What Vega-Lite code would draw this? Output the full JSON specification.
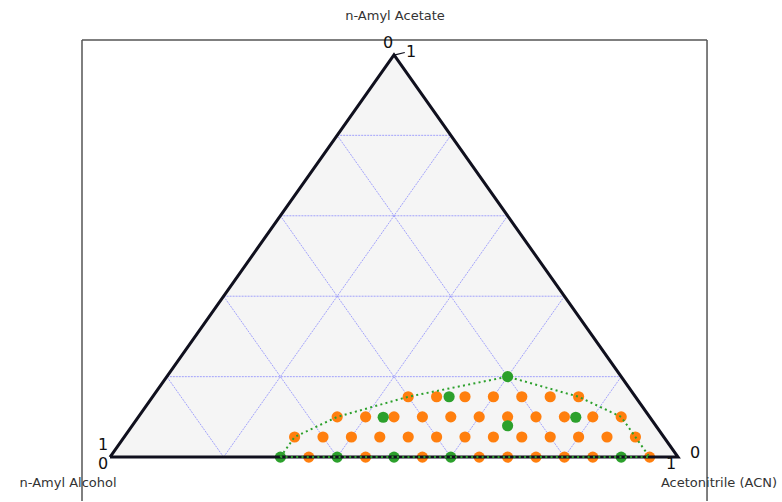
{
  "$schema": "https://vega.github.io/schema/vega-lite/v6.json",
  "width": 782,
  "height": 502,
  "autosize": {"type": "fit", "contains": "padding"},
  "padding": 0,
  "background": "white",
  "config": {"view": {"stroke": null}},
  "datasets": {
    "one": [{}],
    "triangle": [
      {"i": 0, "x": 0, "y": 0},
      {"i": 1, "x": 0.5, "y": 1},
      {"i": 2, "x": 1, "y": 0},
      {"i": 3, "x": 0, "y": 0}
    ],
    "grid": [
      {"x": 0.1, "y": 0.2, "x2": 0.9, "y2": 0.2},
      {"x": 0.2, "y": 0.4, "x2": 0.8, "y2": 0.4},
      {"x": 0.3, "y": 0.6, "x2": 0.7, "y2": 0.6},
      {"x": 0.4, "y": 0.8, "x2": 0.6, "y2": 0.8},
      {"x": 0.2, "y": 0, "x2": 0.6, "y2": 0.8},
      {"x": 0.4, "y": 0, "x2": 0.7, "y2": 0.6},
      {"x": 0.6, "y": 0, "x2": 0.8, "y2": 0.4},
      {"x": 0.8, "y": 0, "x2": 0.9, "y2": 0.2},
      {"x": 0.2, "y": 0, "x2": 0.1, "y2": 0.2},
      {"x": 0.4, "y": 0, "x2": 0.2, "y2": 0.4},
      {"x": 0.6, "y": 0, "x2": 0.3, "y2": 0.6},
      {"x": 0.8, "y": 0, "x2": 0.4, "y2": 0.8}
    ],
    "points": [
      {"x": 0.35, "y": 0, "type": "mixture"},
      {"x": 0.45, "y": 0, "type": "mixture"},
      {"x": 0.55, "y": 0, "type": "mixture"},
      {"x": 0.65, "y": 0, "type": "mixture"},
      {"x": 0.70, "y": 0, "type": "mixture"},
      {"x": 0.75, "y": 0, "type": "mixture"},
      {"x": 0.80, "y": 0, "type": "mixture"},
      {"x": 0.85, "y": 0, "type": "mixture"},
      {"x": 0.95, "y": 0, "type": "mixture"},
      {"x": 0.325, "y": 0.05, "type": "mixture"},
      {"x": 0.375, "y": 0.05, "type": "mixture"},
      {"x": 0.425, "y": 0.05, "type": "mixture"},
      {"x": 0.475, "y": 0.05, "type": "mixture"},
      {"x": 0.525, "y": 0.05, "type": "mixture"},
      {"x": 0.575, "y": 0.05, "type": "mixture"},
      {"x": 0.625, "y": 0.05, "type": "mixture"},
      {"x": 0.675, "y": 0.05, "type": "mixture"},
      {"x": 0.725, "y": 0.05, "type": "mixture"},
      {"x": 0.775, "y": 0.05, "type": "mixture"},
      {"x": 0.825, "y": 0.05, "type": "mixture"},
      {"x": 0.875, "y": 0.05, "type": "mixture"},
      {"x": 0.925, "y": 0.05, "type": "mixture"},
      {"x": 0.40, "y": 0.1, "type": "mixture"},
      {"x": 0.45, "y": 0.1, "type": "mixture"},
      {"x": 0.50, "y": 0.1, "type": "mixture"},
      {"x": 0.55, "y": 0.1, "type": "mixture"},
      {"x": 0.60, "y": 0.1, "type": "mixture"},
      {"x": 0.65, "y": 0.1, "type": "mixture"},
      {"x": 0.70, "y": 0.1, "type": "mixture"},
      {"x": 0.75, "y": 0.1, "type": "mixture"},
      {"x": 0.80, "y": 0.1, "type": "mixture"},
      {"x": 0.85, "y": 0.1, "type": "mixture"},
      {"x": 0.90, "y": 0.1, "type": "mixture"},
      {"x": 0.525, "y": 0.15, "type": "mixture"},
      {"x": 0.575, "y": 0.15, "type": "mixture"},
      {"x": 0.625, "y": 0.15, "type": "mixture"},
      {"x": 0.675, "y": 0.15, "type": "mixture"},
      {"x": 0.725, "y": 0.15, "type": "mixture"},
      {"x": 0.775, "y": 0.15, "type": "mixture"},
      {"x": 0.825, "y": 0.15, "type": "mixture"},
      {"x": 0.30, "y": 0, "type": "boundary"},
      {"x": 0.40, "y": 0, "type": "boundary"},
      {"x": 0.50, "y": 0, "type": "boundary"},
      {"x": 0.60, "y": 0, "type": "boundary"},
      {"x": 0.90, "y": 0, "type": "boundary"},
      {"x": 0.481, "y": 0.099, "type": "boundary"},
      {"x": 0.597, "y": 0.15, "type": "boundary"},
      {"x": 0.82, "y": 0.099, "type": "boundary"},
      {"x": 0.70, "y": 0.078, "type": "boundary"},
      {"x": 0.70, "y": 0.2, "type": "boundary"}
    ],
    "binodal": [
      {"i": 0, "x": 0.30, "y": 0},
      {"i": 1, "x": 0.325, "y": 0.05},
      {"i": 2, "x": 0.40, "y": 0.1},
      {"i": 3, "x": 0.525, "y": 0.15},
      {"i": 4, "x": 0.70, "y": 0.2},
      {"i": 5, "x": 0.825, "y": 0.15},
      {"i": 6, "x": 0.90, "y": 0.1},
      {"i": 7, "x": 0.925, "y": 0.05},
      {"i": 8, "x": 0.95, "y": 0},
      {"i": 9, "x": 0.30, "y": 0}
    ]
  },
  "layer": [
    {
      "data": {"name": "one"},
      "mark": {"type": "rule", "color": "#555555", "strokeWidth": 1.5},
      "encoding": {
        "x": {"datum": -0.0493, "type": "quantitative", "scale": {"domain": [-0.19366, 1.1831], "nice": false, "zero": false}, "axis": null},
        "y": {"datum": 1.0372, "type": "quantitative", "scale": {"domain": [-0.10918, 1.13648], "nice": false, "zero": false}, "axis": null},
        "y2": {"datum": -0.10918}
      }
    },
    {
      "data": {"name": "one"},
      "mark": {"type": "rule", "color": "#555555", "strokeWidth": 1.5},
      "encoding": {
        "x": {"datum": 1.0511, "type": "quantitative", "scale": {"domain": [-0.19366, 1.1831], "nice": false, "zero": false}, "axis": null},
        "y": {"datum": 1.0372, "type": "quantitative", "scale": {"domain": [-0.10918, 1.13648], "nice": false, "zero": false}, "axis": null},
        "y2": {"datum": -0.10918}
      }
    },
    {
      "data": {"name": "one"},
      "mark": {"type": "rule", "color": "#555555", "strokeWidth": 1.5},
      "encoding": {
        "x": {"datum": -0.0493, "type": "quantitative", "scale": {"domain": [-0.19366, 1.1831], "nice": false, "zero": false}, "axis": null},
        "x2": {"datum": 1.0511},
        "y": {"datum": 1.0372, "type": "quantitative", "scale": {"domain": [-0.10918, 1.13648], "nice": false, "zero": false}, "axis": null}
      }
    },
    {
      "data": {"name": "triangle"},
      "transform": [{"filter": "datum.i < 3"}],
      "mark": {"type": "area", "color": "#f5f5f5", "opacity": 1},
      "encoding": {
        "x": {"field": "x", "type": "quantitative", "scale": {"domain": [-0.19366, 1.1831], "nice": false, "zero": false}, "axis": null},
        "y": {"field": "y", "type": "quantitative", "scale": {"domain": [-0.10918, 1.13648], "nice": false, "zero": false}, "axis": null},
        "y2": {"datum": 0}
      }
    },
    {
      "data": {"name": "grid"},
      "mark": {"type": "rule", "color": "#6a6aff", "opacity": 0.6, "strokeWidth": 1, "strokeDash": [2, 1]},
      "encoding": {
        "x": {"field": "x", "type": "quantitative", "scale": {"domain": [-0.19366, 1.1831], "nice": false, "zero": false}, "axis": null},
        "y": {"field": "y", "type": "quantitative", "scale": {"domain": [-0.10918, 1.13648], "nice": false, "zero": false}, "axis": null},
        "x2": {"field": "x2"},
        "y2": {"field": "y2"}
      }
    },
    {
      "data": {"name": "points"},
      "mark": {"type": "circle", "size": 125, "opacity": 1},
      "encoding": {
        "x": {"field": "x", "type": "quantitative", "scale": {"domain": [-0.19366, 1.1831], "nice": false, "zero": false}, "axis": null},
        "y": {"field": "y", "type": "quantitative", "scale": {"domain": [-0.10918, 1.13648], "nice": false, "zero": false}, "axis": null},
        "color": {"field": "type", "type": "nominal", "scale": {"domain": ["mixture", "boundary"], "range": ["#ff7f0e", "#2ca02c"]}, "legend": null}
      }
    },
    {
      "data": {"name": "triangle"},
      "mark": {"type": "line", "color": "#10101e", "strokeWidth": 3, "strokeJoin": "miter"},
      "encoding": {
        "x": {"field": "x", "type": "quantitative", "scale": {"domain": [-0.19366, 1.1831], "nice": false, "zero": false}, "axis": null},
        "y": {"field": "y", "type": "quantitative", "scale": {"domain": [-0.10918, 1.13648], "nice": false, "zero": false}, "axis": null},
        "order": {"field": "i", "type": "quantitative"}
      }
    },
    {
      "data": {"name": "binodal"},
      "mark": {"type": "line", "color": "#2ca02c", "strokeWidth": 2, "strokeDash": [2, 3.3]},
      "encoding": {
        "x": {"field": "x", "type": "quantitative", "scale": {"domain": [-0.19366, 1.1831], "nice": false, "zero": false}, "axis": null},
        "y": {"field": "y", "type": "quantitative", "scale": {"domain": [-0.10918, 1.13648], "nice": false, "zero": false}, "axis": null},
        "order": {"field": "i", "type": "quantitative"}
      }
    },
    {
      "data": {"name": "one"},
      "mark": {"type": "rule", "color": "#10101e", "strokeWidth": 1.2},
      "encoding": {
        "x": {"datum": 0.5018, "type": "quantitative", "scale": {"domain": [-0.19366, 1.1831], "nice": false, "zero": false}, "axis": null},
        "y": {"datum": 1.0, "type": "quantitative", "scale": {"domain": [-0.10918, 1.13648], "nice": false, "zero": false}, "axis": null},
        "x2": {"datum": 0.519},
        "y2": {"datum": 1.006}
      }
    },
    {
      "data": {"name": "one"},
      "mark": {"type": "text", "text": "0", "font": "DejaVu Sans", "fontSize": 16, "color": "#111111", "align": "center", "baseline": "middle"},
      "encoding": {
        "x": {"datum": 0.4894, "type": "quantitative", "scale": {"domain": [-0.19366, 1.1831], "nice": false, "zero": false}, "axis": null},
        "y": {"datum": 1.0298, "type": "quantitative", "scale": {"domain": [-0.10918, 1.13648], "nice": false, "zero": false}, "axis": null}
      }
    },
    {
      "data": {"name": "one"},
      "mark": {"type": "text", "text": "1", "font": "DejaVu Sans", "fontSize": 16, "color": "#111111", "align": "center", "baseline": "middle"},
      "encoding": {
        "x": {"datum": 0.5299, "type": "quantitative", "scale": {"domain": [-0.19366, 1.1831], "nice": false, "zero": false}, "axis": null},
        "y": {"datum": 1.0074, "type": "quantitative", "scale": {"domain": [-0.10918, 1.13648], "nice": false, "zero": false}, "axis": null}
      }
    },
    {
      "data": {"name": "one"},
      "mark": {"type": "text", "text": "1", "font": "DejaVu Sans", "fontSize": 16, "color": "#111111", "align": "center", "baseline": "middle"},
      "encoding": {
        "x": {"datum": -0.0123, "type": "quantitative", "scale": {"domain": [-0.19366, 1.1831], "nice": false, "zero": false}, "axis": null},
        "y": {"datum": 0.0298, "type": "quantitative", "scale": {"domain": [-0.10918, 1.13648], "nice": false, "zero": false}, "axis": null}
      }
    },
    {
      "data": {"name": "one"},
      "mark": {"type": "text", "text": "0", "font": "DejaVu Sans", "fontSize": 16, "color": "#111111", "align": "center", "baseline": "middle"},
      "encoding": {
        "x": {"datum": -0.0123, "type": "quantitative", "scale": {"domain": [-0.19366, 1.1831], "nice": false, "zero": false}, "axis": null},
        "y": {"datum": -0.0174, "type": "quantitative", "scale": {"domain": [-0.10918, 1.13648], "nice": false, "zero": false}, "axis": null}
      }
    },
    {
      "data": {"name": "one"},
      "mark": {"type": "text", "text": "0", "font": "DejaVu Sans", "fontSize": 16, "color": "#111111", "align": "center", "baseline": "middle"},
      "encoding": {
        "x": {"datum": 1.0299, "type": "quantitative", "scale": {"domain": [-0.19366, 1.1831], "nice": false, "zero": false}, "axis": null},
        "y": {"datum": 0.0099, "type": "quantitative", "scale": {"domain": [-0.10918, 1.13648], "nice": false, "zero": false}, "axis": null}
      }
    },
    {
      "data": {"name": "one"},
      "mark": {"type": "text", "text": "1", "font": "DejaVu Sans", "fontSize": 16, "color": "#111111", "align": "center", "baseline": "middle"},
      "encoding": {
        "x": {"datum": 0.9877, "type": "quantitative", "scale": {"domain": [-0.19366, 1.1831], "nice": false, "zero": false}, "axis": null},
        "y": {"datum": -0.0174, "type": "quantitative", "scale": {"domain": [-0.10918, 1.13648], "nice": false, "zero": false}, "axis": null}
      }
    },
    {
      "data": {"name": "one"},
      "mark": {"type": "text", "text": "n-Amyl Acetate", "font": "DejaVu Sans", "fontSize": 13, "color": "#333333", "align": "center", "baseline": "middle"},
      "encoding": {
        "x": {"datum": 0.5018, "type": "quantitative", "scale": {"domain": [-0.19366, 1.1831], "nice": false, "zero": false}, "axis": null},
        "y": {"datum": 1.0968, "type": "quantitative", "scale": {"domain": [-0.10918, 1.13648], "nice": false, "zero": false}, "axis": null}
      }
    },
    {
      "data": {"name": "one"},
      "mark": {"type": "text", "text": "n-Amyl Alcohol", "font": "DejaVu Sans", "fontSize": 13, "color": "#333333", "align": "center", "baseline": "middle"},
      "encoding": {
        "x": {"datum": -0.0739, "type": "quantitative", "scale": {"domain": [-0.19366, 1.1831], "nice": false, "zero": false}, "axis": null},
        "y": {"datum": -0.0645, "type": "quantitative", "scale": {"domain": [-0.10918, 1.13648], "nice": false, "zero": false}, "axis": null}
      }
    },
    {
      "data": {"name": "one"},
      "mark": {"type": "text", "text": "Acetonitrile (ACN)", "font": "DejaVu Sans", "fontSize": 13, "color": "#333333", "align": "center", "baseline": "middle"},
      "encoding": {
        "x": {"datum": 1.0722, "type": "quantitative", "scale": {"domain": [-0.19366, 1.1831], "nice": false, "zero": false}, "axis": null},
        "y": {"datum": -0.0645, "type": "quantitative", "scale": {"domain": [-0.10918, 1.13648], "nice": false, "zero": false}, "axis": null}
      }
    }
  ]
}
